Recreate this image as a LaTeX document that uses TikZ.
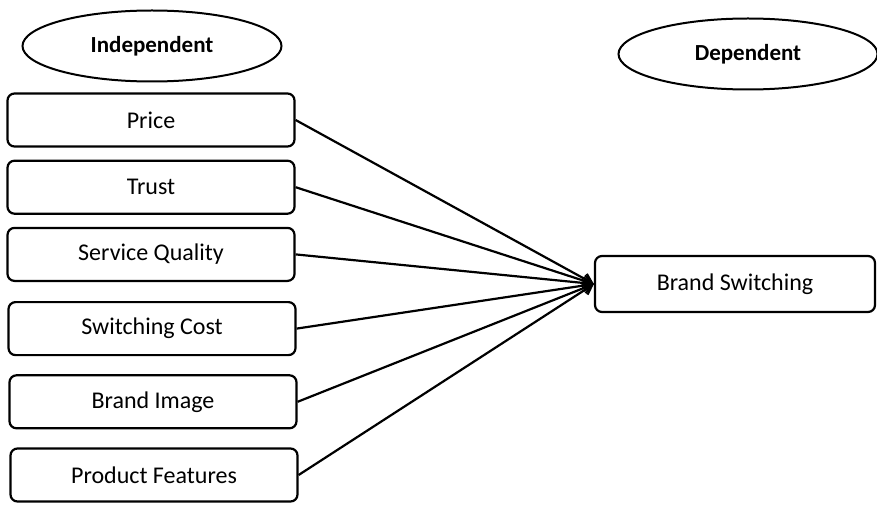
\documentclass[tikz,border=0pt]{standalone}
\usepackage{fontspec}
\setmainfont{Carlito}
\usepackage{xcolor}
\usepackage{tikz}
\usetikzlibrary{positioning, shapes.geometric, arrows.meta}

\begin{document}
\begin{tikzpicture}[x = 1pt, y = -1pt, node distance = 12pt]
            \tikzstyle{var} = [draw=black, line width = 2.2pt, rounded corners = 7pt, minimum width = 287pt, minimum height = 53pt, font = \fontsize{24}{28}\selectfont]
            \tikzstyle{group} = [ellipse, draw=black, line width = 2pt, minimum width = 259pt, minimum height = 71pt, font = \bfseries\fontsize{23}{27}\selectfont]
            \useasboundingbox (0, 0) rectangle (877, 505);

            \node [group] (I) at (152, 46) {Independent};
            \node [group] (D) at (748, 54) {Dependent};

            \node [var] (P0) at (151, 120) {Price};
            \node [var, below = 12pt of P0] (P1) {Trust};
            \node [var, below = 12pt of P1] (P2) {Service Quality};
            \node [var, below = 19pt of P2, xshift = 1pt] (P3) {Switching Cost};
            \node [var, below = 18pt of P3, xshift = 1pt] (P4) {Brand Image};
            \node [var, below = 18pt of P4, xshift = 1pt] (P5) {Product Features};

            \node [var, minimum width = 280pt, minimum height = 56pt] (B) at (735, 284) {Brand Switching};

            \foreach \i in {0, ..., 5}
                \draw [-{Straight Barb[length = 9pt, width = 11pt]}, line width = 2.2pt] (P\i.east) to (B.west);
        \end{tikzpicture}
\end{document}
